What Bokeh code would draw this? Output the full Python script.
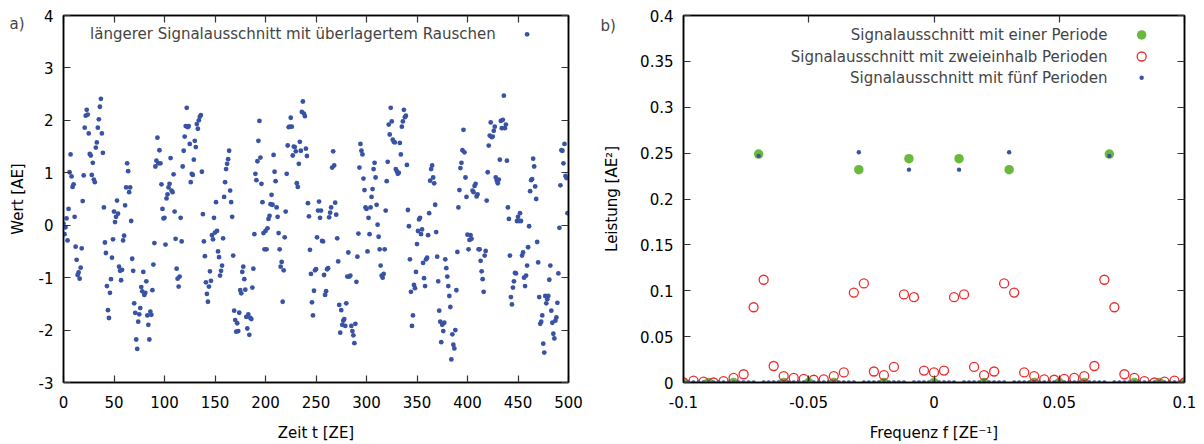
from bokeh.plotting import figure
from bokeh.layouts import row
from bokeh.models import Range1d, FixedTicker, NumeralTickFormatter, LinearAxis, Label
from bokeh.embed import file_html
from bokeh.resources import INLINE

# ---------------- data: panel a) (signal with noise, t = 0..499) ----------------
signal = [
    0.03, -0.17, -0.04, 0.13, -0.29, 0.31, 1.01, 1.35, 0.93, 0.73,
    0.78, 0.16, -0.41, -0.66, -0.95, -0.90, -1.02, -0.81, -0.44, 0.46,
    0.95, 1.86, 2.09, 2.20, 2.11, 1.75, 1.36, 1.33, 0.96, 1.19,
    0.87, 0.82, 1.48, 1.58, 1.86, 2.02, 2.26, 2.41, 1.75, 1.38,
    0.34, -0.33, -0.53, -1.16, -1.62, -1.77, -1.29, -1.03, -0.62, -0.27,
    0.26, 0.06, 0.16, 0.47, 0.22, -0.79, -0.87, -1.05, -0.85, -0.29,
    -0.20, 0.38, 0.72, 1.18, 1.03, 0.63, 0.72, 0.08, -0.64, -0.87,
    -1.49, -1.67, -2.18, -2.36, -1.84, -1.70, -1.58, -1.18, -1.26, -0.89,
    -1.33, -1.29, -1.07, -1.72, -1.90, -2.18, -1.65, -1.71, -1.24, -0.75,
    -0.34, 1.12, 1.23, 1.67, 1.18, 1.43, 1.18, 0.78, 0.31, 0.13,
    # 100
    0.14, -0.37, 0.51, 0.59, 0.72, 0.79, 1.28, 0.66, 0.63, 0.97,
    0.26, -0.26, -0.83, -1.02, -1.17, -0.98, 0.14, -0.31, 1.12, 1.42,
    1.69, 1.89, 2.24, 1.87, 1.89, 1.55, 0.82, 0.98, 0.96, 1.25,
    1.61, 1.49, 1.93, 1.84, 2.00, 2.07, 2.10, 1.02, 0.21, -0.31,
    -0.59, -1.09, -1.31, -1.46, -1.17, -0.88, -1.06, -0.19, -0.27, 0.14,
    -0.14, 0.44, -0.11, -0.50, -0.61, -0.96, -0.87, -0.77, -0.25, 0.54,
    0.82, 1.07, 1.17, 1.26, 1.42, 0.66, 0.44, 0.16, -0.58, -1.63,
    -1.81, -2.03, -1.87, -2.02, -1.67, -1.24, -1.30, -0.89, -0.79, -1.03,
    -1.23, -1.75, -1.97, -1.70, -2.09, -1.77, -1.79, -1.19, -0.83, -0.17,
    0.98, 0.86, 1.22, 1.61, 1.99, 1.29, 0.79, 0.44, -0.15, -0.46,
    # 200
    -0.11, -0.46, -0.06, 0.12, 0.18, 0.40, 0.58, 0.39, 1.34, 1.02,
    0.84, 0.34, 0.16, -0.15, -0.46, -0.79, -0.70, -1.46, -0.86, -0.23,
    0.26, 0.98, 1.52, 1.87, 1.88, 2.05, 1.88, 1.33, 1.50, 1.49,
    1.41, 0.80, 0.73, 1.17, 1.59, 1.42, 2.16, 2.36, 2.13, 2.08,
    1.46, 1.32, 0.42, 0.17, -0.47, -0.93, -1.47, -1.72, -1.25, -0.86,
    -0.84, -0.23, 0.28, 0.45, 0.14, 0.28, -0.30, -0.31, -0.95, -1.33,
    -1.26, -0.84, -0.82, 0.15, 0.24, 0.34, 1.10, 1.41, 1.14, 0.43,
    0.20, -0.25, -0.69, -1.52, -2.05, -1.62, -1.90, -1.82, -1.79, -1.92,
    -1.49, -0.98, -0.52, -0.98, -0.96, -1.92, -2.02, -2.10, -2.25, -1.88,
    -1.08, -0.60, -0.16, 1.10, 1.55, 1.42, 1.35, 0.89, 0.67, 0.34,
    # 300
    0.31, -0.50, 0.14, -0.17, 0.34, 0.54, 0.69, 1.07, 1.19, 0.91,
    0.39, 0.01, -0.22, -0.46, -0.77, -0.96, -1.00, -0.93, -0.46, 0.28,
    0.84, 1.21, 1.92, 1.73, 2.24, 1.98, 1.63, 1.59, 1.58, 1.07,
    1.03, 0.98, 1.00, 1.57, 1.35, 1.88, 1.98, 2.20, 2.06, 2.09,
    1.15, 0.29, -0.02, -0.65, -1.27, -1.92, -1.72, -1.14, -1.20, -0.89,
    -0.36, -0.11, 0.11, 0.14, -0.17, -0.08, -0.72, -1.01, -1.16, -0.65,
    -0.62, -0.19, 0.23, 0.85, 1.07, 1.14, 0.91, 0.80, 0.39, -0.13,
    -0.60, -1.07, -1.63, -1.84, -2.23, -1.90, -2.02, -1.86, -0.65, -0.82,
    -0.98, -1.16, -1.35, -1.56, -2.56, -2.08, -2.28, -2.35, -2.00, -1.24,
    -0.51, 0.34, 0.67, 1.09, 1.19, 1.43, 1.82, 1.39, 0.91, 0.54,
    # 400
    -0.18, -0.46, -0.28, -0.19, -0.26, 0.66, 0.63, 0.75, 0.79, 0.55,
    0.59, -0.46, -0.46, -0.68, -0.88, -1.03, -1.27, -0.58, -0.49, 0.47,
    1.01, 1.52, 1.71, 1.96, 1.68, 1.69, 1.80, 1.88, 0.91, 0.85,
    0.80, 0.87, 1.25, 1.99, 1.85, 2.01, 2.47, 1.85, 1.92, 1.23,
    0.34, 0.12, -0.58, -1.37, -1.51, -1.19, -1.07, -0.91, -0.92, 0.08,
    0.16, 0.08, 0.23, 0.08, -0.58, -0.52, -1.00, -1.16, -0.96, -0.77,
    -0.42, -0.02, 0.65, 0.86, 0.88, 1.27, 1.12, 0.74, 0.50, -0.32,
    -0.71, -1.37, -1.88, -1.84, -1.72, -2.26, -2.43, -1.35, -1.49, -1.41,
    -1.35, -1.04, -0.77, -1.63, -1.86, -2.07, -2.16, -1.82, -1.76, -1.48,
    -0.92, -0.05, 0.76, 1.43, 1.42, 1.18, 1.55, 0.94, 0.90, 0.23,
]
time = list(range(len(signal)))

# ---------------- data: panel b) (power spectra) ----------------
# one period: 100 samples -> bins k/100
power_one = [0, 0, 0, 0.249, 0, 0, 0, 0.232, 0, 0.244, 0, 0.244, 0, 0.232, 0, 0, 0, 0.249, 0, 0, 0]
freq_one = [k / 100 for k in range(-10, 11)]

# two and a half periods: 250 samples -> bins k/250
power_twohalf = [
    0.0, 0.002, 0.001, 0.0, 0.0015, 0.005, 0.009, 0.082, 0.112, 0.018,
    0.007, 0.005, 0.004, 0.003, 0.0035, 0.007, 0.011, 0.098, 0.108, 0.012,
    0.008, 0.017, 0.096, 0.093, 0.013, 0.011, 0.013, 0.093, 0.096, 0.017,
    0.008, 0.012, 0.108, 0.098, 0.011, 0.007, 0.0035, 0.003, 0.004, 0.005,
    0.007, 0.018, 0.112, 0.082, 0.009, 0.005, 0.0015, 0.0, 0.001, 0.002,
    0.0,
]
freq_twohalf = [k / 250 for k in range(-25, 26)]

# five periods: 500 samples -> bins k/500 (only six non-zero bins)
power_five = [0.0] * 101
for k, pw in [(-35, 0.247), (-15, 0.251), (-5, 0.232), (5, 0.232), (15, 0.251), (35, 0.247)]:
    power_five[k + 50] = pw
freq_five = [k / 500 for k in range(-50, 51)]

legend_a = "längerer Signalausschnitt mit überlagertem Rauschen"
legend_b = ["Signalausschnitt mit einer Periode",
            "Signalausschnitt mit zweieinhalb Perioden",
            "Signalausschnitt mit fünf Perioden"]

FONT = "DejaVu Sans"
FS = "15px"
BLUE = "#3953a4"
GREEN = "#6ab93c"
RED = "#ee2b2b"


def mirror_axis(ticks):
    return LinearAxis(ticker=FixedTicker(ticks=ticks), major_label_text_font_size="1px",
                      major_label_text_color=None, major_label_standoff=0,
                      major_tick_in=7, major_tick_out=0, minor_tick_line_color=None,
                      axis_line_color="black", axis_line_width=1.5,
                      major_tick_line_color="#333333", major_tick_line_width=1.2)


def style(p, xticks, yticks, fmt_x, fmt_y, ylab_standoff):
    p.outline_line_color = "black"
    p.outline_line_width = 1.5
    p.grid.visible = False
    for ax in (p.xaxis[0], p.yaxis[0]):
        ax.major_tick_in = 7
        ax.major_tick_out = 0
        ax.minor_tick_line_color = None
        ax.axis_line_color = "black"
        ax.axis_line_width = 1.5
        ax.major_tick_line_color = "#333333"
        ax.major_tick_line_width = 1.2
        ax.major_label_text_font = FONT
        ax.major_label_text_font_size = FS
        ax.major_label_text_color = "black"
        ax.axis_label_text_font = FONT
        ax.axis_label_text_font_size = FS
        ax.axis_label_text_font_style = "normal"
        ax.axis_label_text_color = "black"
    p.xaxis[0].ticker = FixedTicker(ticks=xticks)
    p.yaxis[0].ticker = FixedTicker(ticks=yticks)
    p.xaxis[0].formatter = NumeralTickFormatter(format=fmt_x)
    p.yaxis[0].formatter = NumeralTickFormatter(format=fmt_y)
    p.xaxis[0].major_label_standoff = 13
    p.yaxis[0].major_label_standoff = 10
    p.xaxis[0].axis_label_standoff = 13
    p.yaxis[0].axis_label_standoff = ylab_standoff
    p.add_layout(mirror_axis(xticks), "above")
    p.add_layout(mirror_axis(yticks), "right")


# ---------------- panel a ----------------
p1 = figure(width=600, height=444, output_backend="svg", toolbar_location=None,
            x_range=Range1d(0, 500), y_range=Range1d(-3, 4),
            min_border_left=63, min_border_right=32, min_border_top=15, min_border_bottom=62)
p1.xaxis.axis_label = "Zeit t [ZE]"
p1.yaxis.axis_label = "Wert [AE]"
style(p1, list(range(0, 501, 50)), list(range(-3, 5)), "0", "0", 9)
p1.scatter(time, signal, size=4.8, color=BLUE, line_color=None)
p1.add_layout(Label(x=428, y=3.64, text=legend_a, text_align="right", text_baseline="middle",
                    text_font=FONT, text_font_size=FS))
p1.scatter([459], [3.64], size=4.8, color=BLUE, line_color=None)
# panel tag, placed in a side panel so that it is not clipped to the frame
p1.add_layout(Label(x=-559, y=359, x_units="screen", y_units="screen", text="a)",
                    text_align="left", text_baseline="middle",
                    text_font=FONT, text_font_size=FS), "right")

# ---------------- panel b ----------------
p2 = figure(width=604, height=444, output_backend="svg", toolbar_location=None,
            x_range=Range1d(-0.1, 0.1), y_range=Range1d(0, 0.4),
            min_border_left=81, min_border_right=20, min_border_top=15, min_border_bottom=62)
p2.xaxis.axis_label = "Frequenz f [ZE⁻¹]"
p2.yaxis.axis_label = "Leistung [AE²]"
style(p2, [-0.1, -0.05, 0, 0.05, 0.1], [0, 0.05, 0.1, 0.15, 0.2, 0.25, 0.3, 0.35, 0.4],
      "0.[00]", "0.[00]", 16)
p2.scatter(freq_one, power_one, size=9.5, color=GREEN, line_color=None)
p2.scatter(freq_twohalf, power_twohalf, size=9, fill_color=None, line_color=RED, line_width=1.3)
p2.scatter(freq_five, power_five, size=4.4, color=BLUE, line_color=None)

leg_y = [0.3788, 0.3553, 0.3322]
for txt, yy in zip(legend_b, leg_y):
    p2.add_layout(Label(x=0.0693, y=yy, text=txt, text_align="right", text_baseline="middle",
                        text_font=FONT, text_font_size=FS))
p2.scatter([0.0829], [leg_y[0]], size=9.5, color=GREEN, line_color=None)
p2.scatter([0.0829], [leg_y[1]], size=9, fill_color=None, line_color=RED, line_width=1.3)
p2.scatter([0.0829], [leg_y[2]], size=4.4, color=BLUE, line_color=None)
p2.add_layout(Label(x=-584, y=357, x_units="screen", y_units="screen", text="b)",
                    text_align="left", text_baseline="middle",
                    text_font=FONT, text_font_size=FS), "right")

layout = row(p1, p2)
open("out.html", "w").write(file_html(layout, INLINE))
